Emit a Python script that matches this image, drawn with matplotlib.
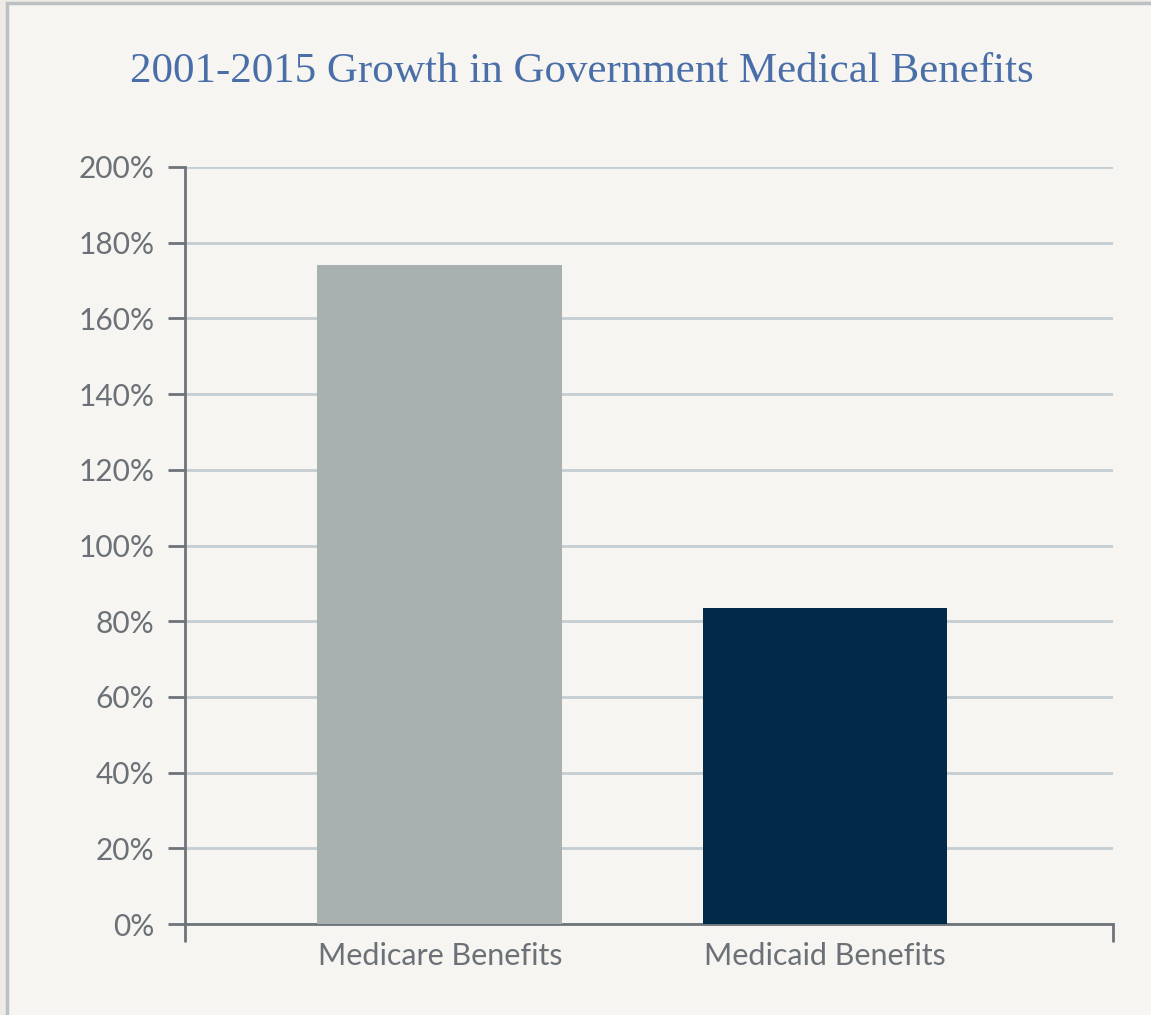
import matplotlib.pyplot as plt
from matplotlib.patches import Rectangle
from matplotlib.ticker import FuncFormatter

# Data
categories = ['Medicare Benefits', 'Medicaid Benefits']
growth = [174, 83.5]
bar_colors = ['#a9b1b0', '#002a48']
y_ticks = list(range(0, 201, 20))

W, H = 1151, 1015
fig = plt.figure(figsize=(W / 100, H / 100), dpi=100)
fig.patch.set_facecolor('#eeebe6')

# panel with grey border on left/top
panel = Rectangle((7 / W, -0.01), 1.02, 1 - 3 / H + 0.01, transform=fig.transFigure,
                  facecolor='#f6f5f1', edgecolor='#bcc0c2', linewidth=2.5, zorder=-10)
fig.patches.append(panel)

ax = fig.add_axes([185 / W, (H - 924) / H, (1113 - 185) / W, (924 - 167) / H])
ax.set_facecolor('none')

x = range(len(categories))
ax.bar(x, growth, width=0.636, color=bar_colors, zorder=3)

ax.set_ylim(0, 200)
ax.set_xlim(-0.662, 1.748)
ax.set_yticks(y_ticks)
ax.yaxis.set_major_formatter(FuncFormatter(lambda v, p: f'{v:.0f}%'))
ax.set_xticks(list(x))
ax.set_xticklabels(categories)
ax.set_xticks([-0.662, 1.748], minor=True)

ax.grid(axis='y', color='#c3cdd2', linewidth=2, zorder=0)
for s in ['top', 'right']:
    ax.spines[s].set_visible(False)
for s in ['left', 'bottom']:
    ax.spines[s].set_color('#6d7378')
    ax.spines[s].set_linewidth(2)

ax.tick_params(axis='y', length=12, width=2, color='#6d7378', labelcolor='#6b7177',
               labelsize=21.5, pad=10)
ax.tick_params(axis='x', which='major', length=0, labelcolor='#6b7177', labelsize=22, pad=13)
ax.tick_params(axis='x', which='minor', length=13, width=2, color='#6d7378')
for lab in ax.get_xticklabels() + ax.get_yticklabels():
    lab.set_family(['Lato', 'DejaVu Sans'])

fig.text(582 / W, 1 - 72 / H, '2001-2015 Growth in Government Medical Benefits',
         ha='center', va='center', fontsize=31, color='#4a6ea8',
         family=['Liberation Serif', 'DejaVu Serif'])

fig.savefig('out.png', dpi=100, facecolor=fig.get_facecolor())
